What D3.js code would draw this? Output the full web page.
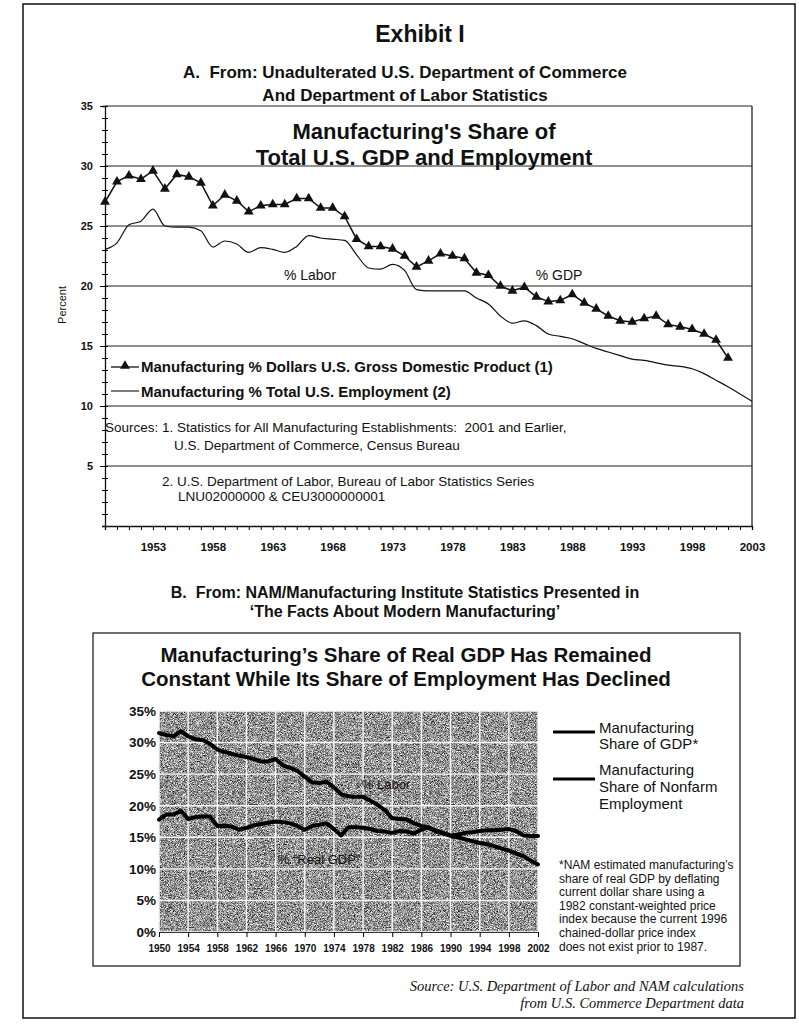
<!DOCTYPE html>
<html>
<head>
<meta charset="utf-8">
<script src="https://cdn.jsdelivr.net/npm/d3@7"></script>
<style>
  body { margin: 0; background: #fff; }
  svg text { font-family: "Liberation Sans", Arial, sans-serif; fill: #111; white-space: pre; }
  .bold { font-weight: bold; }
  .serif { font-family: "Liberation Serif", "Times New Roman", serif; font-style: italic; }
</style>
</head>
<body>
<svg id="exhibit" width="799" height="1027"></svg>
<script>
// ---- panel A: Commerce / Labor statistics ----
let topYears = d3.range(1949, 2004)   // category axis, 1949..2003
let gdpShare = [27.0, 28.7, 29.2, 28.9, 29.6, 28.1, 29.3, 29.1, 28.6, 26.7,
                27.6, 27.1, 26.2, 26.7, 26.8, 26.8, 27.3, 27.3, 26.5, 26.5,
                25.8, 23.9, 23.3, 23.3, 23.1, 22.5, 21.6, 22.1, 22.7, 22.5,
                22.3, 21.1, 20.9, 20.0, 19.6, 19.9, 19.1, 18.7, 18.8, 19.3,
                18.6, 18.1, 17.5, 17.1, 17.0, 17.3, 17.5, 16.8, 16.6, 16.4,
                16.0, 15.5, 14.0]                       // 1949..2001
let laborShare = [23.05, 23.6, 25.1, 25.4, 26.4, 25.0, 24.9, 24.9, 24.6, 23.25,
                  23.75, 23.5, 22.8, 23.2, 23.05, 22.8, 23.3, 24.2, 24.0, 23.9,
                  23.8, 22.6, 21.5, 21.4, 21.8, 21.3, 19.7, 19.6, 19.6, 19.6,
                  19.6, 19.0, 18.5, 17.5, 16.9, 17.1, 16.7, 16.0, 15.8, 15.6,
                  15.2, 14.8, 14.5, 14.2, 13.9, 13.8, 13.6, 13.4, 13.3, 13.1,
                  12.7, 12.15, 11.6, 11.0, 10.4]         // 1949..2003
let topTickYears = [1953, 1958, 1963, 1968, 1973, 1978, 1983, 1988, 1993, 1998, 2003]
let topGrid = [5, 10, 15, 20, 25, 30, 35]

// ---- panel B: NAM figures ----
let namYears = d3.range(1950, 2003)   // 1950..2002
let namLabor = [31.5, 31.2, 31.0, 31.8, 31.0, 30.5, 30.4, 29.8, 28.9, 28.5,
                28.2, 27.9, 27.7, 27.4, 27.0, 27.0, 27.4, 26.4, 26.0, 25.5,
                24.6, 23.7, 23.6, 23.8, 22.9, 21.8, 21.5, 21.4, 21.4, 20.8,
                20.1, 19.3, 18.0, 17.9, 17.8, 17.2, 16.8, 16.5, 16.1, 15.7,
                15.2, 15.0, 14.7, 14.4, 14.1, 13.9, 13.6, 13.2, 12.9, 12.4,
                12.0, 11.3, 10.7]
let namRealGdp = [17.8, 18.6, 18.6, 19.2, 17.9, 18.2, 18.3, 18.3, 16.8, 16.8,
                  16.7, 16.2, 16.5, 16.9, 17.1, 17.3, 17.5, 17.4, 17.2, 16.8,
                  16.2, 16.8, 17.0, 17.2, 16.3, 15.3, 16.6, 16.6, 16.5, 16.3,
                  16.0, 15.9, 15.7, 16.0, 15.9, 15.6, 16.2, 16.6, 15.9, 15.6,
                  15.3, 15.4, 15.7, 15.8, 16.0, 16.1, 16.1, 16.2, 16.3, 16.0,
                  15.3, 15.2, 15.2]
let namTickYears = [1950, 1954, 1958, 1962, 1966, 1970, 1974, 1978, 1982, 1986, 1990, 1994, 1998, 2002]
let namPercents = [0, 5, 10, 15, 20, 25, 30, 35]

let svg = d3.select('#exhibit')

function txt(x, y, s, size, cls, anchor) {
  return svg.append('text')
    .attr('x', x).attr('y', y)
    .attr('class', cls || '')
    .attr('font-size', size)
    .attr('text-anchor', anchor || 'middle')
    .text(s)
}

// page frame
svg.append('rect')
  .attr('x', 23).attr('y', 4).attr('width', 772).attr('height', 1014)
  .attr('fill', 'none').attr('stroke', '#111').attr('stroke-width', 1.5)

txt(420, 42, 'Exhibit I', 23, 'bold')
txt(405, 78, 'A.  From: Unadulterated U.S. Department of Commerce', 17, 'bold')
txt(405, 101, 'And Department of Labor Statistics', 17, 'bold')

// ---------------- chart A ----------------
let xA = d3.scaleLinear().domain([1949, 2003]).range([105, 752])
let yA = d3.scaleLinear().domain([0, 35]).range([526, 106])
let chartA = svg.append('g')

chartA.selectAll('.gridA')
  .data(topGrid)
  .enter()
  .append('line')
  .attr('x1', xA(1949)).attr('x2', xA(2003))
  .attr('y1', d => yA(d)).attr('y2', d => yA(d))
  .attr('stroke', '#222').attr('stroke-width', 1)

chartA.append('line')
  .attr('x1', xA(2003)).attr('x2', xA(2003))
  .attr('y1', yA(35)).attr('y2', yA(0))
  .attr('stroke', '#222').attr('stroke-width', 1.3)

// y axis: minor ticks crossing the axis, labels every 5
let yMinor = chartA.append('g').attr('transform', `translate(${xA(1949)},0)`)
  .call(d3.axisLeft(yA).tickValues(d3.range(0, 36)).tickSize(3).tickFormat(''))
yMinor.selectAll('.tick line').attr('x2', -3).attr('x1', 3)
let yMajor = chartA.append('g').attr('transform', `translate(${xA(1949)},0)`)
  .call(d3.axisLeft(yA).tickValues(topGrid).tickSize(5).tickPadding(7))
yMajor.select('.domain').remove()
yMajor.selectAll('text').attr('font-size', 11).attr('font-weight', 'bold')
  .style('font-family', '"Liberation Sans", Arial, sans-serif')
chartA.selectAll('.domain').attr('stroke', '#111').attr('stroke-width', 1.3)

// x axis: a tick per year, labels every 5 years
chartA.append('g').attr('transform', `translate(0,${yA(0)})`)
  .call(d3.axisBottom(xA).tickValues(topYears).tickSize(4).tickFormat(''))
  .select('.domain').attr('stroke', '#111').attr('stroke-width', 1.3)
let xLab = chartA.append('g').attr('transform', `translate(0,${yA(0)})`)
  .call(d3.axisBottom(xA).tickValues(topTickYears).tickSize(0).tickPadding(17).tickFormat(d3.format('d')))
xLab.select('.domain').remove()
xLab.selectAll('text').attr('font-size', 11.5).attr('font-weight', 'bold')
  .style('font-family', '"Liberation Sans", Arial, sans-serif')

svg.append('text')
  .attr('transform', 'translate(66,305) rotate(-90)')
  .attr('text-anchor', 'middle').attr('font-size', 11)
  .text('Percent')

txt(424, 139, "Manufacturing's Share of", 22, 'bold')
txt(424, 165, 'Total U.S. GDP and Employment', 22, 'bold')

chartA.append('path')
  .datum(laborShare)
  .attr('d', d3.line().x((d, i) => xA(topYears[i])).y(d => yA(d)).curve(d3.curveMonotoneX))
  .attr('fill', 'none').attr('stroke', '#111').attr('stroke-width', 1.2)
chartA.append('path')
  .datum(gdpShare)
  .attr('d', d3.line().x((d, i) => xA(topYears[i])).y(d => yA(d)))
  .attr('fill', 'none').attr('stroke', '#111').attr('stroke-width', 1.5)

let tri = d3.symbol().type(d3.symbolTriangle).size(42)
chartA.selectAll('.tri')
  .data(gdpShare)
  .enter()
  .append('path')
  .attr('d', tri)
  .attr('transform', (d, i) => `translate(${xA(topYears[i])},${yA(d)})`)
  .attr('fill', '#111')

txt(310, 280, '% Labor', 14)
txt(559, 280, '% GDP', 14)

// legend A
chartA.append('line').attr('x1', 111).attr('x2', 139).attr('y1', 367).attr('y2', 367)
  .attr('stroke', '#111').attr('stroke-width', 1.3)
chartA.append('path').attr('d', tri).attr('transform', 'translate(125,366)').attr('fill', '#111')
txt(141, 372, 'Manufacturing % Dollars U.S. Gross Domestic Product (1)', 15, 'bold', 'start')
chartA.append('line').attr('x1', 111).attr('x2', 139).attr('y1', 391).attr('y2', 391)
  .attr('stroke', '#111').attr('stroke-width', 1.1)
txt(141, 397, 'Manufacturing % Total U.S. Employment (2)', 15, 'bold', 'start')

txt(105, 432, 'Sources: 1. Statistics for All Manufacturing Establishments:  2001 and Earlier,', 13.5, '', 'start')
txt(174, 450, 'U.S. Department of Commerce, Census Bureau', 13.5, '', 'start')
txt(162, 486, '2. U.S. Department of Labor, Bureau of Labor Statistics Series', 13.5, '', 'start')
txt(178, 501, 'LNU02000000 & CEU3000000001', 13.5, '', 'start')

// ---------------- panel B ----------------
txt(405, 598, 'B.  From: NAM/Manufacturing Institute Statistics Presented in', 16, 'bold')
txt(405, 617, '\u2018The Facts About Modern Manufacturing\u2019', 16, 'bold')

svg.append('rect')
  .attr('x', 93).attr('y', 633).attr('width', 647).attr('height', 333)
  .attr('fill', 'none').attr('stroke', '#111').attr('stroke-width', 1.2)

txt(406, 662, 'Manufacturing\u2019s Share of Real GDP Has Remained', 20.5, 'bold')
txt(406, 686, 'Constant While Its Share of Employment Has Declined', 20.5, 'bold')

let xB = d3.scaleLinear().domain([1950, 2002]).range([159, 538])
let yB = d3.scaleLinear().domain([0, 35]).range([932, 711])
let chartB = svg.append('g')

// halftone-ish grey plot area
let defs = svg.append('defs')
let grain = defs.append('filter').attr('id', 'grain')
  .attr('x', 0).attr('y', 0).attr('width', 1).attr('height', 1)
  .attr('color-interpolation-filters', 'sRGB')
grain.append('feTurbulence').attr('type', 'fractalNoise')
  .attr('baseFrequency', 1.3).attr('numOctaves', 2).attr('seed', 7)
grain.append('feColorMatrix').attr('type', 'matrix')
  .attr('values', '1 0 0 0 0  1 0 0 0 0  1 0 0 0 0  0 0 0 0 1')
let ct = grain.append('feComponentTransfer')
;['feFuncR', 'feFuncG', 'feFuncB'].forEach(f => {
  ct.append(f).attr('type', 'linear').attr('slope', 1.7).attr('intercept', -0.27)
})

chartB.append('rect')
  .attr('x', xB(1950)).attr('y', yB(35))
  .attr('width', xB(2002) - xB(1950)).attr('height', yB(0) - yB(35))
  .attr('fill', '#999').attr('filter', 'url(#grain)')

chartB.selectAll('.vgrid')
  .data(namTickYears)
  .enter()
  .append('line')
  .attr('x1', d => xB(d)).attr('x2', d => xB(d))
  .attr('y1', yB(35)).attr('y2', yB(0))
  .attr('stroke', '#f6f6f6').attr('stroke-width', 1.4)
chartB.selectAll('.hgrid')
  .data(namPercents)
  .enter()
  .append('line')
  .attr('x1', xB(1950)).attr('x2', xB(2002))
  .attr('y1', d => yB(d)).attr('y2', d => yB(d))
  .attr('stroke', '#f6f6f6').attr('stroke-width', 1.4)

let yAxB = chartB.append('g').attr('transform', `translate(${xB(1950)},0)`)
  .call(d3.axisLeft(yB).tickValues(namPercents).tickSize(0).tickPadding(3).tickFormat(d => d + '%'))
yAxB.select('.domain').remove()
yAxB.selectAll('text').attr('font-size', 13.5).attr('font-weight', 'bold')
  .style('font-family', '"Liberation Sans", Arial, sans-serif')

let xAxB = chartB.append('g').attr('transform', `translate(0,${yB(0)})`)
  .call(d3.axisBottom(xB).tickValues(namTickYears).tickSize(5).tickPadding(8).tickFormat(d3.format('d')))
xAxB.select('.domain').attr('stroke', '#333')
xAxB.selectAll('text').attr('font-size', 10).attr('font-weight', 'bold')
  .style('font-family', '"Liberation Sans", Arial, sans-serif')

let lineB = d3.line().x((d, i) => xB(namYears[i])).y(d => yB(d))
chartB.selectAll('.namLine')
  .data([namLabor, namRealGdp])
  .enter()
  .append('path')
  .attr('d', lineB)
  .attr('fill', 'none').attr('stroke', '#000').attr('stroke-width', 4)
  .attr('stroke-linejoin', 'round').attr('stroke-linecap', 'round')

txt(386, 789, '% Labor', 13)
txt(319, 864, '% \u201cReal GDP\u201d', 13)

// legend B
chartB.append('line').attr('x1', 553).attr('x2', 595).attr('y1', 732).attr('y2', 732)
  .attr('stroke', '#000').attr('stroke-width', 3)
txt(599, 733, 'Manufacturing', 15, '', 'start')
txt(599, 749, 'Share of GDP*', 15, '', 'start')
chartB.append('line').attr('x1', 553).attr('x2', 595).attr('y1', 779).attr('y2', 779)
  .attr('stroke', '#000').attr('stroke-width', 3)
txt(599, 775, 'Manufacturing', 15, '', 'start')
txt(599, 792, 'Share of Nonfarm', 15, '', 'start')
txt(599, 809, 'Employment', 15, '', 'start')

let note = ['*NAM estimated manufacturing\u2019s',
            'share of real GDP by deflating',
            'current dollar share using a',
            '1982 constant-weighted price',
            'index because the current 1996',
            'chained-dollar price index',
            'does not exist prior to 1987.']
svg.selectAll('.note')
  .data(note)
  .enter()
  .append('text')
  .attr('x', 559).attr('y', (d, i) => 869 + i * 13.6)
  .attr('font-size', 12)
  .text(d => d)

svg.append('text').attr('class', 'serif')
  .attr('x', 744).attr('y', 991).attr('text-anchor', 'end').attr('font-size', 14.5)
  .text('Source: U.S. Department of Labor and NAM calculations')
svg.append('text').attr('class', 'serif')
  .attr('x', 744).attr('y', 1008).attr('text-anchor', 'end').attr('font-size', 14.5)
  .text('from U.S. Commerce Department data')
</script>
</body>
</html>
